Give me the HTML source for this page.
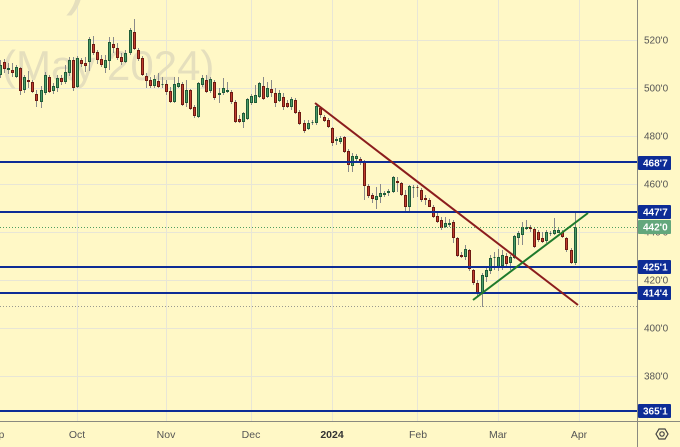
<!DOCTYPE html>
<html><head><meta charset="utf-8"><style>
html,body{margin:0;padding:0;background:#fff8c6;}
svg{display:block;font-family:"Liberation Sans",sans-serif;}
</style></head><body>
<svg width="680" height="447" viewBox="0 0 680 447" xmlns="http://www.w3.org/2000/svg">
<rect width="680" height="447" fill="#fff8c6"/>
<!-- grid -->
<g stroke="#e8e6d6" stroke-width="1">
<path d="M0 40.5H637M0 88.5H637M0 136.5H637M0 184.5H637M0 232.5H637M0 280.5H637M0 328.5H637M0 376.5H637"/>
<path d="M77.5 0V421M166.5 0V421M251.5 0V421M332.5 0V421M417.5 0V421M498.5 0V421M579.5 0V421"/>
</g>
<!-- watermark -->
<text x="2" y="80" font-size="42" fill="#e5dfbd">(May 2024)</text>
<text x="66" y="3" font-size="60" fill="#e5dfbd">)</text>
<!-- wicks -->
<path stroke="#8a8a8a" stroke-width="1" fill="none" d="M0.5 60V78M4.5 59V73M8.5 63V74M12.5 63V77M16.5 65V78M20.5 67V95M24.5 75V93M28.5 71V88M32.5 80V93M36.5 90V107M41.5 86V108M45.5 72V95M49.5 75V93M53.5 83V94M57.5 75V92M61.5 75V85M65.5 65V84M69.5 57V76M73.5 57V91M77.5 56V88M81.5 58V67M85.5 57V72M89.5 37V71M93.5 36V55M97.5 50V64M101.5 55V67M105.5 55V73M109.5 37V70M113.5 37V53M117.5 43V60M121.5 53V65M125.5 50V63M130.5 28V55M134.5 19V50M138.5 48V61M142.5 56V76M146.5 73V88M150.5 77V88M154.5 75V88M158.5 73V88M162.5 77V88M166.5 80V95M170.5 87V103M174.5 77V103M178.5 77V88M182.5 82V106M186.5 80V107M190.5 89V110M194.5 105V118M198.5 82V118M202.5 75V87M206.5 75V93M210.5 77V93M214.5 80V100M219.5 88V103M223.5 78V95M227.5 82V93M231.5 90V104M235.5 100V123M239.5 115V123M243.5 112V128M247.5 98V120M251.5 94V105M255.5 85V103M259.5 82V98M263.5 77V100M267.5 82V98M271.5 80V97M275.5 88V107M279.5 90V102M283.5 93V110M287.5 100V108M291.5 97V110M295.5 98V114M299.5 110V125M304.5 120V133M308.5 120V130M312.5 120V125M316.5 105V125M320.5 107V118M324.5 115V122M328.5 118V128M332.5 127V146M336.5 137V145M340.5 136V144M344.5 136V153M348.5 149V172M352.5 153V172M356.5 154V161M360.5 157V165M364.5 160V200M368.5 184V198M372.5 193V203M376.5 187V209M380.5 184V203M384.5 191V197M388.5 189V196M393.5 176V193M397.5 177V192M401.5 182V196M405.5 190V212M409.5 185V212M413.5 185V198M417.5 185V197M421.5 188V202M425.5 195V205M429.5 198V207M433.5 205V218M437.5 212V223M441.5 217V230M445.5 217V228M449.5 219V227M453.5 220V243M457.5 237V257M461.5 252V258M465.5 245V260M469.5 249V271M473.5 269V285M477.5 280V297M482.5 273V307M486.5 268V282M490.5 255V274M494.5 252V270M498.5 249V271M502.5 250V270M506.5 253V267M510.5 255V270M514.5 235V259M518.5 231V245M522.5 222V245M526.5 220V230M530.5 225V232M534.5 228V248M538.5 230V242M542.5 232V243M546.5 230V243M550.5 231V236M554.5 218V235M558.5 227V233M562.5 230V238M566.5 237V252M571.5 248V264M575.5 212V265"/>
<!-- green bodies -->
<path fill="#4b9b68" stroke="#1f5c38" stroke-width="1" d="M-0.5,65.5h2v9h-2zM7.5,68.5h2v1h-2zM15.5,67.5h2v9h-2zM23.5,77.5h2v12h-2zM40.5,90.5h2v11h-2zM44.5,75.5h2v17h-2zM52.5,86.5h2v4h-2zM56.5,78.5h2v9h-2zM64.5,72.5h2v9h-2zM68.5,60.5h2v12h-2zM76.5,58.5h2v28h-2zM88.5,39.5h2v22h-2zM104.5,60.5h2v7h-2zM108.5,42.5h2v18h-2zM124.5,53.5h2v8h-2zM129.5,30.5h2v22h-2zM153.5,79.5h2v6h-2zM161.5,84.5h2v0h-2zM173.5,84.5h2v17h-2zM177.5,83.5h2v3h-2zM185.5,90.5h2v12h-2zM197.5,83.5h2v33h-2zM201.5,78.5h2v6h-2zM209.5,79.5h2v11h-2zM218.5,93.5h2v1h-2zM222.5,88.5h2v4h-2zM226.5,90.5h2v1h-2zM242.5,113.5h2v8h-2zM246.5,99.5h2v19h-2zM250.5,96.5h2v6h-2zM254.5,95.5h2v7h-2zM258.5,83.5h2v13h-2zM266.5,88.5h2v8h-2zM278.5,93.5h2v7h-2zM290.5,99.5h2v7h-2zM307.5,123.5h2v5h-2zM311.5,122.5h2v0h-2zM315.5,106.5h2v16h-2zM335.5,139.5h2v1h-2zM339.5,138.5h2v3h-2zM351.5,156.5h2v9h-2zM355.5,156.5h2v2h-2zM375.5,196.5h2v3h-2zM379.5,193.5h2v3h-2zM383.5,193.5h2v1h-2zM387.5,191.5h2v1h-2zM392.5,177.5h2v14h-2zM408.5,186.5h2v20h-2zM412.5,187.5h2v0h-2zM444.5,223.5h2v3h-2zM448.5,223.5h2v1h-2zM464.5,249.5h2v7h-2zM481.5,275.5h2v18h-2zM485.5,270.5h2v6h-2zM489.5,258.5h2v12h-2zM493.5,257.5h2v0h-2zM497.5,257.5h2v10h-2zM501.5,255.5h2v10h-2zM509.5,257.5h2v5h-2zM513.5,236.5h2v21h-2zM517.5,233.5h2v4h-2zM521.5,227.5h2v7h-2zM525.5,227.5h2v1h-2zM545.5,232.5h2v8h-2zM549.5,233.5h2v0h-2zM553.5,230.5h2v3h-2zM557.5,230.5h2v2h-2zM574.5,227.5h2v35h-2z"/>
<!-- red bodies -->
<path fill="#bf3d2e" stroke="#6e1a12" stroke-width="1" d="M3.5,62.5h2v6h-2zM11.5,70.5h2v2h-2zM19.5,68.5h2v22h-2zM27.5,80.5h2v1h-2zM31.5,82.5h2v9h-2zM35.5,94.5h2v6h-2zM48.5,77.5h2v14h-2zM60.5,78.5h2v3h-2zM72.5,60.5h2v27h-2zM80.5,60.5h2v3h-2zM84.5,63.5h2v2h-2zM92.5,44.5h2v8h-2zM96.5,52.5h2v7h-2zM100.5,59.5h2v5h-2zM112.5,44.5h2v3h-2zM116.5,48.5h2v9h-2zM120.5,57.5h2v4h-2zM133.5,32.5h2v16h-2zM137.5,50.5h2v8h-2zM141.5,58.5h2v16h-2zM145.5,76.5h2v4h-2zM149.5,80.5h2v5h-2zM157.5,81.5h2v5h-2zM165.5,84.5h2v7h-2zM169.5,91.5h2v10h-2zM181.5,84.5h2v20h-2zM189.5,90.5h2v18h-2zM193.5,107.5h2v8h-2zM205.5,80.5h2v11h-2zM213.5,82.5h2v15h-2zM230.5,92.5h2v9h-2zM234.5,102.5h2v19h-2zM238.5,119.5h2v2h-2zM262.5,86.5h2v12h-2zM270.5,89.5h2v3h-2zM274.5,93.5h2v9h-2zM282.5,97.5h2v9h-2zM286.5,103.5h2v3h-2zM294.5,100.5h2v12h-2zM298.5,112.5h2v11h-2zM303.5,123.5h2v7h-2zM319.5,108.5h2v6h-2zM323.5,117.5h2v3h-2zM327.5,120.5h2v6h-2zM331.5,128.5h2v14h-2zM343.5,137.5h2v14h-2zM347.5,151.5h2v13h-2zM359.5,159.5h2v2h-2zM363.5,162.5h2v23h-2zM367.5,186.5h2v9h-2zM371.5,195.5h2v3h-2zM396.5,181.5h2v1h-2zM400.5,183.5h2v11h-2zM404.5,195.5h2v11h-2zM416.5,187.5h2v0h-2zM420.5,190.5h2v9h-2zM424.5,198.5h2v1h-2zM428.5,200.5h2v6h-2zM432.5,207.5h2v9h-2zM436.5,216.5h2v5h-2zM440.5,220.5h2v7h-2zM452.5,222.5h2v15h-2zM456.5,238.5h2v17h-2zM460.5,255.5h2v1h-2zM468.5,250.5h2v18h-2zM472.5,270.5h2v12h-2zM476.5,283.5h2v10h-2zM505.5,256.5h2v7h-2zM529.5,227.5h2v1h-2zM533.5,229.5h2v17h-2zM537.5,232.5h2v7h-2zM541.5,238.5h2v3h-2zM561.5,232.5h2v4h-2zM565.5,238.5h2v11h-2zM570.5,250.5h2v12h-2z"/>
<!-- dotted price lines -->
<path d="M0 227.5H637" stroke="#4f9e62" stroke-width="1" stroke-dasharray="1 2"/>
<path d="M0 306.5H637" stroke="#9a9a90" stroke-width="1" stroke-dasharray="1 2"/>
<!-- horizontal levels -->
<g stroke="#0d2c96" stroke-width="2">
<path d="M0 162H637M0 212H637M0 267H637M0 293H637M0 411H637"/>
</g>
<!-- trend lines -->
<line x1="315" y1="103" x2="578" y2="305" stroke="#8b1d1d" stroke-width="2"/>
<line x1="473" y1="300" x2="588" y2="213" stroke="#1f7a2c" stroke-width="2"/>
<!-- axes -->
<path d="M0 421.5H680M637.5 0V447" stroke="#8a8a80" stroke-width="1"/>
<!-- y labels -->
<g font-size="10" fill="#555">
<text x="644" y="43.5">520'0</text>
<text x="644" y="91.5">500'0</text>
<text x="644" y="139.5">480'0</text>
<text x="644" y="187.5">460'0</text>
<text x="644" y="235.5">440'0</text>
<text x="644" y="283.5">420'0</text>
<text x="644" y="331.5">400'0</text>
<text x="644" y="379.5">380'0</text>
</g>
<g fill="#0d2c96">
<rect x="638" y="156" width="33" height="14" rx="1"/>
<rect x="638" y="205" width="33" height="14" rx="1"/>
<rect x="638" y="260" width="33" height="14" rx="1"/>
<rect x="638" y="286" width="33" height="14" rx="1"/>
<rect x="638" y="404" width="33" height="14" rx="1"/>
</g>
<rect x="638" y="220" width="33" height="14" rx="1" fill="#63a77c"/>
<g font-size="10" font-weight="bold" fill="#fff">
<text x="643" y="166.5">468'7</text>
<text x="643" y="215.5">447'7</text>
<text x="643" y="230.5">442'0</text>
<text x="643" y="270.5">425'1</text>
<text x="643" y="296.5">414'4</text>
<text x="643" y="414.5">365'1</text>
</g>
<!-- x labels -->
<g font-size="10.5" fill="#555" text-anchor="middle">
<text x="-5" y="438">Sep</text>
<text x="77" y="438">Oct</text>
<text x="166" y="438">Nov</text>
<text x="251" y="438">Dec</text>
<text x="332" y="438" font-weight="bold" fill="#333">2024</text>
<text x="418" y="438">Feb</text>
<text x="498" y="438">Mar</text>
<text x="579" y="438">Apr</text>
</g>
<!-- gear icon -->
<g stroke="#444" stroke-width="1.2" fill="none">
<path d="M656 434L659 429H665L668 434L665 439H659Z"/>
<circle cx="662" cy="434" r="2.2"/>
</g>
</svg>
</body></html>
